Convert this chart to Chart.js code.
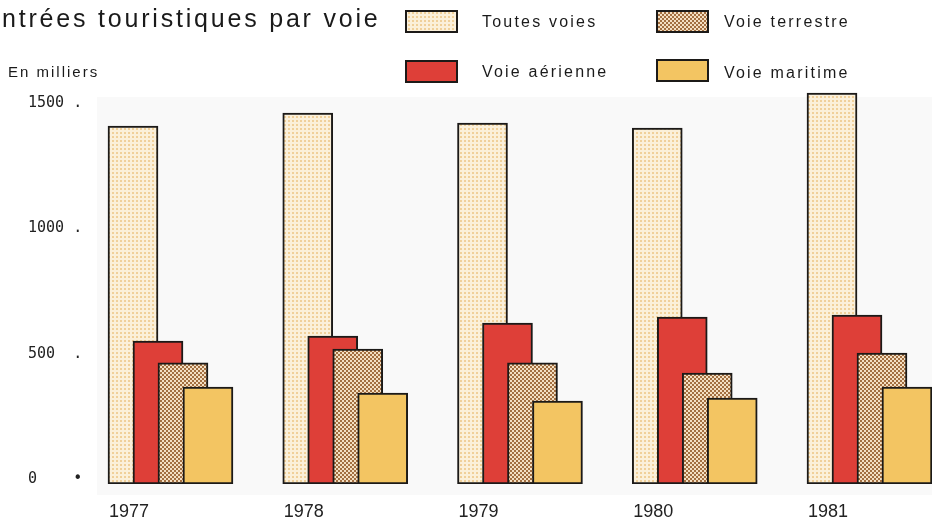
<!DOCTYPE html>
<html><head><meta charset="utf-8">
<script src="https://cdn.jsdelivr.net/npm/chart.js@4.4.0/dist/chart.umd.min.js"></script>
<style>html,body{margin:0;padding:0;background:#fff;overflow:hidden}</style>
</head><body>
<canvas id="c" width="932" height="528"></canvas>
<script>
// ---- data ----
const chartTitle = 'Entrées touristiques par voie';
const unitLabel = 'En milliers';
const years = [1977, 1978, 1979, 1980, 1981];
const seriesNames = ['Toutes voies', 'Voie aérienne', 'Voie terrestre', 'Voie maritime'];
const toutesVoies = [1428, 1480, 1440, 1420, 1560];
const voieAerienne = [570, 590, 642, 666, 674];
const voieTerrestre = [483, 538, 483, 443, 522];
const voieMaritime = [387, 363, 331, 343, 387];
const yTickValues = [0, 500, 1000, 1500];
const yTickLabels = ['0    \u2022', '500  .', '1000 .', '1500 .'];

// ---- styles ----
function makePattern(bg, dot, size, dotSize, stagger) {
  const c = document.createElement('canvas');
  c.width = size; c.height = size;
  const g = c.getContext('2d');
  g.fillStyle = bg; g.fillRect(0, 0, size, size);
  g.fillStyle = dot; g.fillRect(0, 0, dotSize, dotSize);
  if (stagger) g.fillRect(size / 2, size / 2, dotSize, dotSize);
  return g.createPattern(c, 'repeat');
}
const ctx = document.getElementById('c').getContext('2d');
const fills = [
  makePattern('#fbf0da', '#f0d09a', 4, 2, false),
  '#de3f38',
  makePattern('#f4dfc2', '#a36f40', 4, 2, true),
  '#f3c562'
];
const seriesValues = [toutesVoies, voieAerienne, voieTerrestre, voieMaritime];
const axisIds = ['x', 'x1', 'x2', 'x3'];
const xMin = 1976.7082, xMax = 1981.5722, barShift = 0.143;

const datasets = seriesNames.map((name, k) => ({
  label: name,
  data: seriesValues[k].map((v, i) => ({ x: years[i], y: v })),
  xAxisID: axisIds[k],
  backgroundColor: fills[k],
  borderColor: '#1c1a18',
  borderWidth: 2,
  borderSkipped: false,
  grouped: false,
  barThickness: 50,
  maxBarThickness: 50,
  order: 4 - k
}));

const scales = {
  y: {
    min: 0, max: 1620,
    grid: { display: false, drawTicks: false },
    border: { display: false },
    afterBuildTicks: s => { s.ticks = yTickValues.map(v => ({ value: v })); },
    afterFit: s => { s.width = 54; },
    ticks: {
      crossAlign: 'far', labelOffset: -5, color: '#222',
      font: { family: 'DejaVu Sans Mono', size: 15 },
      callback: v => yTickLabels[yTickValues.indexOf(v)]
    }
  }
};
axisIds.forEach((id, k) => {
  scales[id] = {
    type: 'linear',
    display: k === 0,
    min: xMin - k * barShift,
    max: xMax - k * barShift,
    offset: false,
    grid: { display: false, drawTicks: false },
    border: { display: false },
    afterBuildTicks: s => { s.ticks = years.map(v => ({ value: v })); },
    ticks: {
      maxRotation: 0, autoSkip: false, padding: 17, labelOffset: -4, color: '#222',
      font: { family: 'Liberation Sans', size: 18 },
      callback: v => String(v)
    }
  };
  if (k === 0) {
    scales[id].afterFit = s => { s.height = 44; };
  }
});

const legendSlots = [
  { ds: 0, bx: 405, by: 10, tx: 482, ty: 27 },
  { ds: 2, bx: 656, by: 10, tx: 724, ty: 27 },
  { ds: 1, bx: 405, by: 60, tx: 482, ty: 77 },
  { ds: 3, bx: 656, by: 59, tx: 724, ty: 78 }
];

const decor = {
  id: 'decor',
  beforeDraw(chart) {
    const a = chart.chartArea, g = chart.ctx;
    g.save();
    g.fillStyle = '#f9f9f9';
    g.fillRect(a.left + 15, a.top + 19, a.right - a.left - 15, a.bottom - a.top - 8);
    g.restore();
  },
  afterDraw(chart) {
    const g = chart.ctx;
    g.save();
    g.fillStyle = '#1a1a1a';
    g.textBaseline = 'alphabetic';
    g.textAlign = 'left';
    g.font = '25px "Liberation Sans"';
    g.letterSpacing = '2.8px';
    g.fillText(chartTitle, -17.5, 27);
    g.font = '15px "Liberation Sans"';
    g.letterSpacing = '2px';
    g.fillText(unitLabel, 8, 77);
    g.font = '16px "Liberation Sans"';
    g.letterSpacing = '2.2px';
    legendSlots.forEach(s => {
      const ds = chart.data.datasets[s.ds];
      g.fillStyle = ds.backgroundColor;
      g.fillRect(s.bx, s.by, 53, 23);
      g.strokeStyle = '#1c1a18';
      g.lineWidth = 2;
      g.strokeRect(s.bx + 1, s.by + 1, 51, 21);
      g.fillStyle = '#1a1a1a';
      g.fillText(ds.label, s.tx, s.ty);
    });
    g.restore();
  }
};

new Chart(ctx, {
  type: 'bar',
  data: { datasets },
  options: {
    responsive: false,
    animation: false,
    layout: { padding: { top: 78, left: 28, right: 0, bottom: 0 } },
    plugins: { legend: { display: false }, tooltip: { enabled: false }, title: { display: false } },
    scales
  },
  plugins: [decor]
});
</script>
</body></html>
